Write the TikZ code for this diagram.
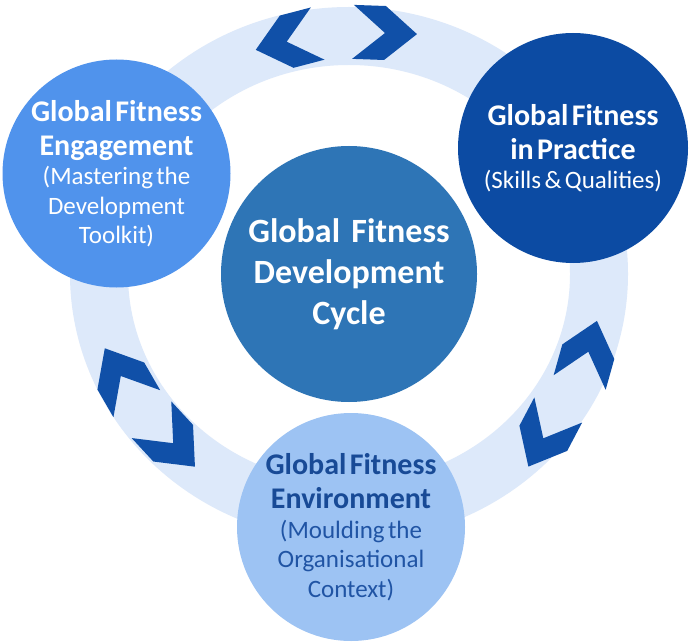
\documentclass[tikz,border=0pt]{standalone}
\usepackage{fontspec}
\setmainfont{Carlito}
\definecolor{ringcol}{RGB}{221,233,250}
\definecolor{chevcol}{RGB}{16,80,168}
\definecolor{centercol}{RGB}{46,117,182}
\definecolor{leftcol}{RGB}{80,147,236}
\definecolor{rightcol}{RGB}{12,75,163}
\definecolor{bottomcol}{RGB}{157,195,243}
\definecolor{envtitle}{RGB}{24,74,150}
\definecolor{envsub}{RGB}{32,84,164}
\newcommand\chevron[3]{\fill[chevcol, shift={(#1,#2)}, rotate=#3] (32,0) -- (0,27) -- (-32,27) -- (0,0) -- (-32,-27) -- (0,-27) -- cycle;}
\newcommand\ttlfont{\fontsize{30}{34}\selectfont\bfseries}
\newcommand\subfont{\fontsize{25}{29.5}\selectfont}
\begin{document}
\begin{tikzpicture}[x=1pt,y=-1pt,
  disc/.style={circle, inner sep=0pt, minimum size=#1},
  label text/.style={align=center, text width=230pt, inner sep=0pt}]
\useasboundingbox (0,0) rectangle (690,644);
\fill[white] (0,0) rectangle (690,644);
% ring
\draw[ringcol, line width=58pt] (349,274) ellipse [x radius=250pt, y radius=238pt];
% chevrons
\chevron{286.7}{41.7}{194.7}
\chevron{385}{33}{-2}
\chevron{120.8}{376}{120}
\chevron{173.2}{443.2}{-47.2}
\chevron{588.3}{351.7}{74.3}
\chevron{543.3}{438.3}{242.2}
% circles
\node[disc=256pt, fill=centercol] (cycle) at (349,274) {};
\node[disc=228pt, fill=leftcol] (engage) at (116.5,173.5) {};
\node[disc=230pt, fill=rightcol] (practice) at (573,148) {};
\node[disc=228pt, fill=bottomcol] (environ) at (351,527) {};
% texts
\node[label text, text=white, font=\fontsize{34}{41}\selectfont\bfseries] (cycleT) at (cycle) {Global Fitness\\Development\\Cycle};
\node[label text, text=white] (engageT) at (engage) {{\ttlfont Global Fitness\\Engagement\par}{\subfont (Mastering the\\Development\\Toolkit)\par}};
\node[label text, text=white] (practiceT) at (practice) {{\ttlfont Global Fitness\\in Practice\par}{\subfont (Skills \& Qualities)\par}};
\node[label text] (environT) at (environ) {{\ttlfont\color{envtitle} Global Fitness\\Environment\par}{\subfont\color{envsub} (Moulding the\\Organisational\\Context)\par}};
\end{tikzpicture}
\end{document}
